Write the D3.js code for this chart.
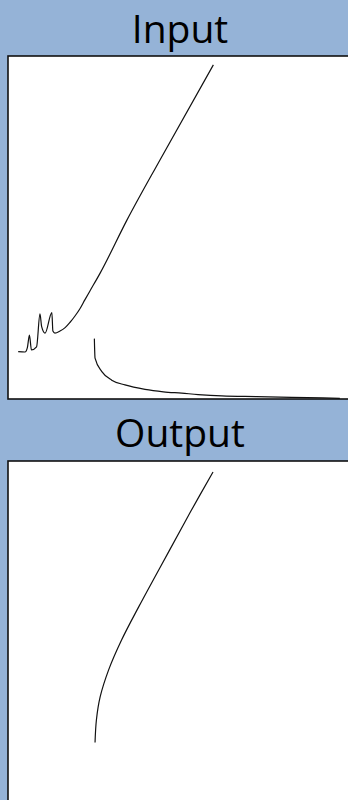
<!DOCTYPE html>
<html>
<head>
<meta charset="utf-8">
<script src="https://cdn.jsdelivr.net/npm/d3@7"></script>
<style>
    html, body { margin: 0; padding: 0; background: #95b3d7; overflow: hidden; }
    .frame { fill: #fff; stroke: #111; stroke-width: 1.6; }
    .title { font-family: 'Open Sans', sans-serif; font-size: 39px; fill: #000; text-anchor: middle; }
    .curve { fill: none; stroke: #111; stroke-width: 1.2; }
</style>
</head>
<body>
<div id="chart"></div>
<script>
// values, in panel units (0..100 on both axes)
const panelTitles = ['Input', 'Output'];

const inputRiseX = [3.0, 5.0, 5.7, 6.3, 6.9, 8.4, 9.4, 9.9, 10.9, 12.9, 13.2, 13.8, 15.3, 16.8, 18.2, 19.7, 21.2, 22.6, 24.1, 27.1, 34.9, 44.7, 60.4];
const inputRiseY = [13.8, 13.7, 15.0, 18.6, 14.3, 15.2, 24.8, 21.1, 19.2, 25.2, 19.8, 19.2, 19.8, 20.8, 22.3, 24.2, 26.4, 28.9, 31.5, 36.7, 52.0, 69.7, 97.4];

const inputFallX = [25.4, 25.6, 27.6, 30.5, 34.4, 40.3, 45.7, 51.1, 55.9, 62.9, 73.1, 92.6, 97.6];
const inputFallY = [17.6, 11.9, 8.0, 5.5, 4.1, 2.8, 2.1, 1.7, 1.3, 0.9, 0.7, 0.3, 0.2];

const outputX = [25.6, 26.0, 27.1, 29.6, 33.4, 38.4, 43.2, 47.4, 53.8, 60.3];
const outputY = [17.9, 24.5, 31.2, 39.1, 47.8, 57.4, 66.2, 73.8, 85.4, 96.8];

const W = 348, H = 800;

const svg = d3.select('#chart').append('svg')
    .attr('width', W)
    .attr('height', H);

const panels = [
    {title: panelTitles[0], top: 56, bottom: 399, titleY: 43,
     series: [{x: inputRiseX, y: inputRiseY, curve: d3.curveMonotoneX},
              {x: inputFallX, y: inputFallY, curve: d3.curveMonotoneX}]},
    {title: panelTitles[1], top: 461, bottom: 804, titleY: 447,
     series: [{x: outputX, y: outputY, curve: d3.curveCatmullRom.alpha(0.5)}]}
];

const xScale = d3.scaleLinear()
    .domain([0, 100])
    .range([8, 348]);

panels.forEach(p => {
    const yScale = d3.scaleLinear()
        .domain([0, 100])
        .range([p.bottom, p.top]);

    svg.append('text')
        .attr('class', 'title')
        .attr('x', 180)
        .attr('y', p.titleY)
        .text(p.title);

    svg.append('rect')
        .attr('class', 'frame')
        .attr('x', 8)
        .attr('y', p.top)
        .attr('width', 346)
        .attr('height', p.bottom - p.top);

    p.series.forEach(s => {
        const pts = s.x.map((v, i) => [v, s.y[i]]);
        const line = d3.line()
            .x(d => xScale(d[0]))
            .y(d => yScale(d[1]))
            .curve(s.curve);
        svg.append('path')
            .attr('class', 'curve')
            .attr('d', line(pts));
    });
});
</script>
</body>
</html>
